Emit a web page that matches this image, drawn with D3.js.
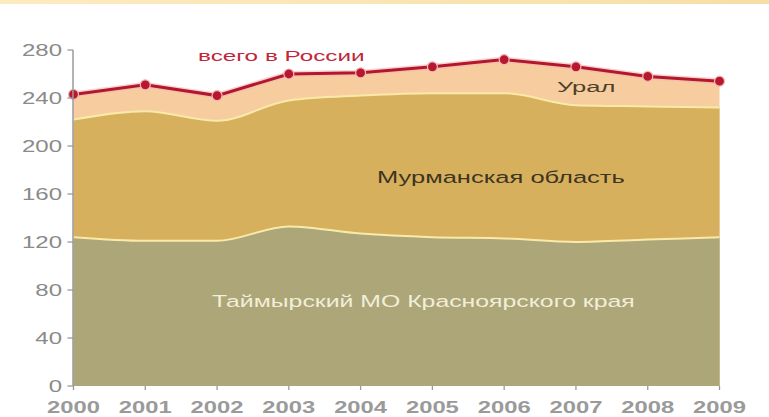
<!DOCTYPE html>
<html>
<head>
<meta charset="utf-8">
<script src="https://cdn.jsdelivr.net/npm/d3@7"></script>
<style>
  html, body { margin: 0; padding: 0; background: #ffffff; }
  svg { display: block; }
  text { font-family: "Liberation Sans", Arial, sans-serif; }
</style>
</head>
<body>
<svg id="chart" width="769" height="417"></svg>
<script>
// Production by region, 2000–2009
const years = [2000, 2001, 2002, 2003, 2004, 2005, 2006, 2007, 2008, 2009];
const taimyr   = [124, 121, 121, 133, 127, 124, 123, 120, 122, 124];
const murmansk = [ 98, 108, 100, 105, 115, 120, 121, 114, 111, 108];
const ural     = [ 21,  22,  21,  22,  19,  22,  28,  32,  25,  22];
const yTicks   = [0, 40, 80, 120, 160, 200, 240, 280];

const seriesKeys   = ["taimyr", "murmansk", "ural"];
const seriesLabels = {
  taimyr: "Таймырский МО Красноярского края",
  murmansk: "Мурманская область",
  ural: "Урал",
  total: "всего в России"
};

const rows = years.map((y, i) => ({
  year: y, taimyr: taimyr[i], murmansk: murmansk[i], ural: ural[i]
}));
const totals = rows.map(r => ({ year: r.year, value: r.taimyr + r.murmansk + r.ural }));

const svg = d3.select("#chart");
const W = 769, H = 417;

const x = d3.scaleLinear().domain([2000, 2009]).range([73.5, 719.5]);
const y = d3.scaleLinear().domain([0, 280]).range([386, 50]);

// thin header strip
const grad = svg.append("defs").append("linearGradient").attr("id", "strip");
grad.append("stop").attr("offset", "0%").attr("stop-color", "#fdebc0");
grad.append("stop").attr("offset", "100%").attr("stop-color", "#f6dfa6");
svg.append("rect").attr("x", 0).attr("y", 0).attr("width", W).attr("height", 4)
  .attr("fill", "url(#strip)");

const stack = d3.stack().keys(seriesKeys)(rows);
const colors = { taimyr: "#aca678", murmansk: "#d7b05e", ural: "#f7cc9e" };

// Layers painted from the top one down, each filled from the baseline
const plot = svg.append("g");

// Урал layer reaches up to the total line (straight segments)
plot.append("path")
  .datum(stack[2])
  .attr("fill", colors.ural)
  .attr("d", d3.area()
    .x(d => x(d.data.year)).y0(y(0)).y1(d => y(d[1]))
    .curve(d3.curveLinear));

[1, 0].forEach(k => {
  plot.append("path")
    .datum(stack[k])
    .attr("fill", colors[seriesKeys[k]])
    .attr("d", d3.area()
      .x(d => x(d.data.year)).y0(y(0)).y1(d => y(d[1]))
      .curve(d3.curveMonotoneX));
});

// pale boundary lines between layers
[0, 1].forEach(k => {
  plot.append("path")
    .datum(stack[k])
    .attr("fill", "none")
    .attr("stroke", "#f9eaa9")
    .attr("stroke-width", 2)
    .attr("d", d3.line()
      .x(d => x(d.data.year)).y(d => y(d[1]))
      .curve(d3.curveMonotoneX));
});

// total line with soft halo
const totalLine = d3.line().x(d => x(d.year)).y(d => y(d.value));
plot.append("path").datum(totals)
  .attr("fill", "none").attr("stroke", "#f2b7b7").attr("stroke-width", 6)
  .attr("stroke-opacity", 0.6).attr("d", totalLine);
plot.append("path").datum(totals)
  .attr("fill", "none").attr("stroke", "#b3172b").attr("stroke-width", 3)
  .attr("d", totalLine);
plot.selectAll("circle.pt").data(totals).join("circle")
  .attr("class", "pt")
  .attr("cx", d => x(d.year)).attr("cy", d => y(d.value))
  .attr("r", 5)
  .attr("fill", "#b8182d")
  .attr("stroke", "#f4b8bc").attr("stroke-width", 1.2);

// horizontally widened text helper
function label(g, str, px, py, opts) {
  const t = g.append("g")
    .attr("transform", `translate(${px},${py}) scale(${opts.sx || 1},1)`)
    .append("text")
    .attr("x", 0).attr("y", 0)
    .attr("text-anchor", opts.anchor || "start")
    .attr("font-size", opts.size)
    .attr("font-weight", opts.weight || "normal")
    .attr("fill", opts.fill)
    .text(str);
  return t;
}

// y axis
const axisG = svg.append("g");
axisG.append("line")
  .attr("x1", x(2000) - 0.5).attr("x2", x(2000) - 0.5)
  .attr("y1", y(280)).attr("y2", y(0))
  .attr("stroke", "#9a9a9a").attr("stroke-width", 1.5);
yTicks.forEach(v => {
  axisG.append("line")
    .attr("x1", x(2000) - 6).attr("x2", x(2000) - 0.5)
    .attr("y1", y(v)).attr("y2", y(v))
    .attr("stroke", "#9a9a9a").attr("stroke-width", 1.3);
  label(axisG, String(v), 62, y(v) + 5.8, { size: 16, sx: 1.5, anchor: "end", fill: "#8a8a8a" });
});

// x axis
years.forEach(yr => {
  axisG.append("line")
    .attr("x1", x(yr)).attr("x2", x(yr))
    .attr("y1", y(0)).attr("y2", y(0) + 4)
    .attr("stroke", "#9a9a9a").attr("stroke-width", 1.3);
  label(axisG, String(yr), x(yr), 412.5, { size: 17, sx: 1.4, anchor: "middle", weight: "bold", fill: "#9a9a9a" });
});

// series labels
const labG = svg.append("g");
label(labG, seriesLabels.total, 198, 61, { size: 15, sx: 1.62, fill: "#c0263a" });
label(labG, seriesLabels.ural, 557, 92, { size: 15.5, sx: 1.65, fill: "#4d412b" });
label(labG, seriesLabels.murmansk, 377, 182.5, { size: 17, sx: 1.5, fill: "#3d3421" });
label(labG, seriesLabels.taimyr, 212, 306.5, { size: 17, sx: 1.46, fill: "#f2eed8" });
</script>
</body>
</html>
